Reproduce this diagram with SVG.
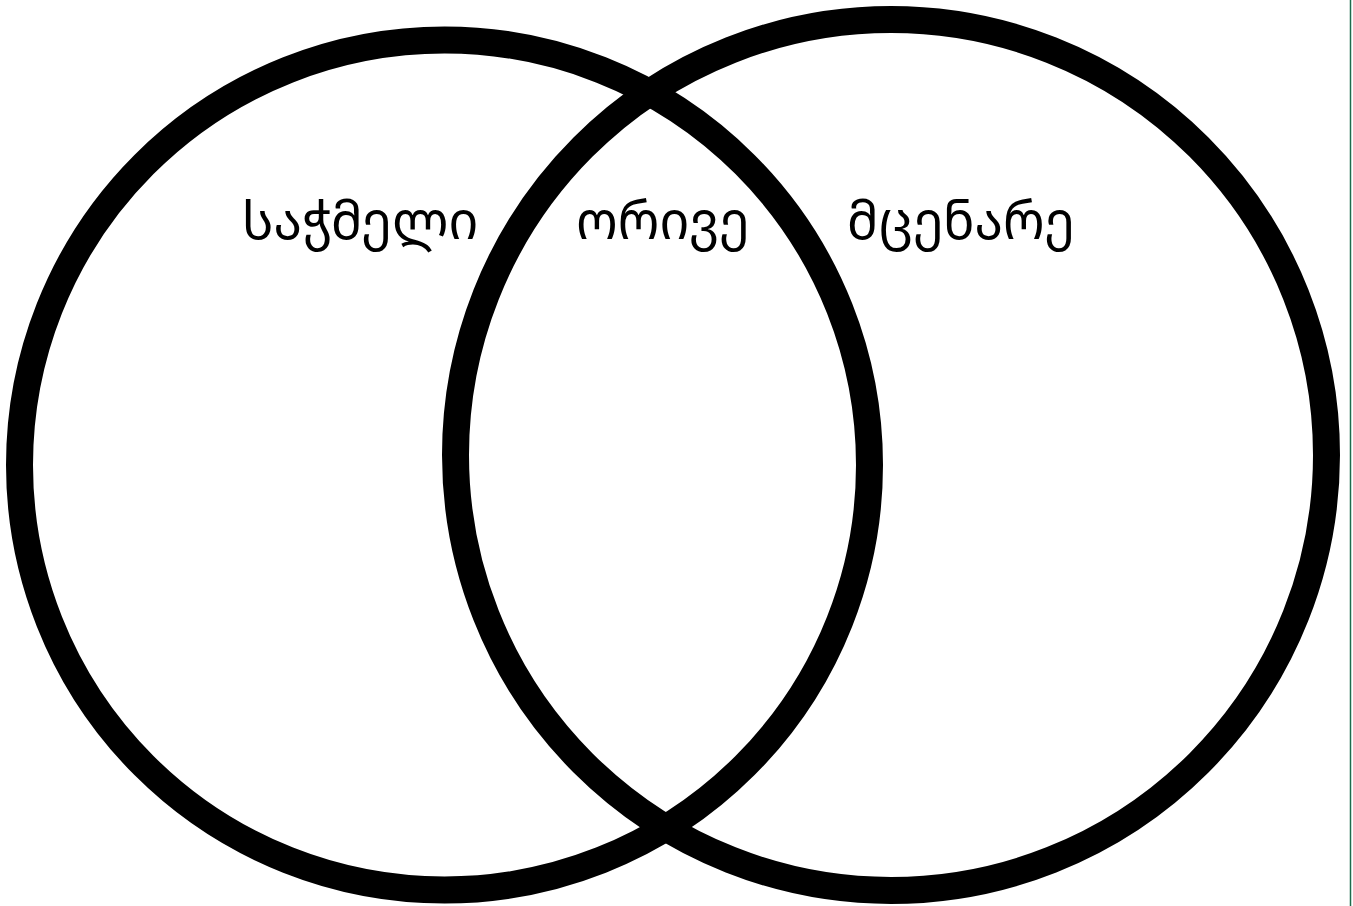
<svg xmlns="http://www.w3.org/2000/svg" width="1353" height="906" viewBox="0 0 1353 906">
<style>
.ring{fill:none;stroke:#000;stroke-width:27}
.lbl{font-family:"Noto Sans Georgian","DejaVu Sans",sans-serif;font-size:52px;fill:#000}
</style>
<rect width="1353" height="906" fill="#fff"/>
<line x1="1350.5" y1="0" x2="1350.5" y2="906" stroke="#1f6b4c" stroke-width="1.5"/>
<g id="left-set"><circle class="ring" cx="444.5" cy="465" r="425"/></g>
<g id="right-set"><circle class="ring" cx="891" cy="455" r="435.5"/></g>
<g id="label-left"><text class="lbl" x="242" y="239">საჭმელი</text></g>
<g id="label-both"><text class="lbl" x="576" y="239">ორივე</text></g>
<g id="label-right"><text class="lbl" x="847" y="239">მცენარე</text></g>
<g id="connectors"></g>
</svg>
